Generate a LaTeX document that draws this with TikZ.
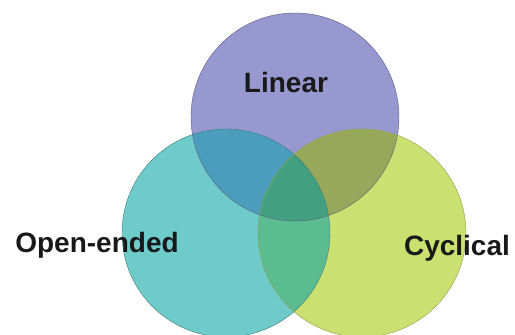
\documentclass[tikz,border=0pt]{standalone}
\usepackage{fontspec}
\setmainfont{Liberation Sans}
\usepackage{tikz}
\usetikzlibrary{positioning}

\definecolor{linfill}{RGB}{152,152,208}
\definecolor{openfill}{RGB}{110,203,202}
\definecolor{cycfill}{RGB}{202,224,112}
\definecolor{linopen}{RGB}{76,156,190}
\definecolor{lincyc}{RGB}{152,168,90}
\definecolor{opencyc}{RGB}{90,188,144}
\definecolor{allthree}{RGB}{66,160,128}

\tikzset{
  setcircle/.style={circle, minimum size=208pt, inner sep=0pt},
  setlabel/.style={font=\bfseries\fontsize{28}{30}\selectfont, text=black!90, inner sep=0pt}
}

\begin{document}
\begin{tikzpicture}[x=1pt, y=1pt]
\useasboundingbox (0,0) rectangle (515,335);
% the three sets
\node[setcircle, fill=linfill] (linear) at (295,218) {};
\node[setcircle, fill=openfill] (open) at (226,102) {};
\node[setcircle, fill=cycfill] (cyc) at (362,102) {};
% overlaps
\begin{scope}
\clip (linear.center) circle (104);
\fill[linopen] (open.center) circle (104);
\fill[lincyc] (cyc.center) circle (104);
\end{scope}
\begin{scope}
\clip (open.center) circle (104);
\fill[opencyc] (cyc.center) circle (104);
\clip (cyc.center) circle (104);
\fill[allthree] (linear.center) circle (104);
\end{scope}
% outlines
\draw[linfill!60!black, thin] (linear.center) circle (104);
\draw[openfill!60!black, thin] (open.center) circle (104);
\draw[cycfill!70!black, thin] (cyc.center) circle (104);
% labels
\node[setlabel] (lintext) at (286,253) {Linear};
\node[setlabel] (opentext) at (97,90) {Open-ended};
\node[setlabel] (cyctext) at (457,87) {Cyclical};
\end{tikzpicture}
\end{document}
